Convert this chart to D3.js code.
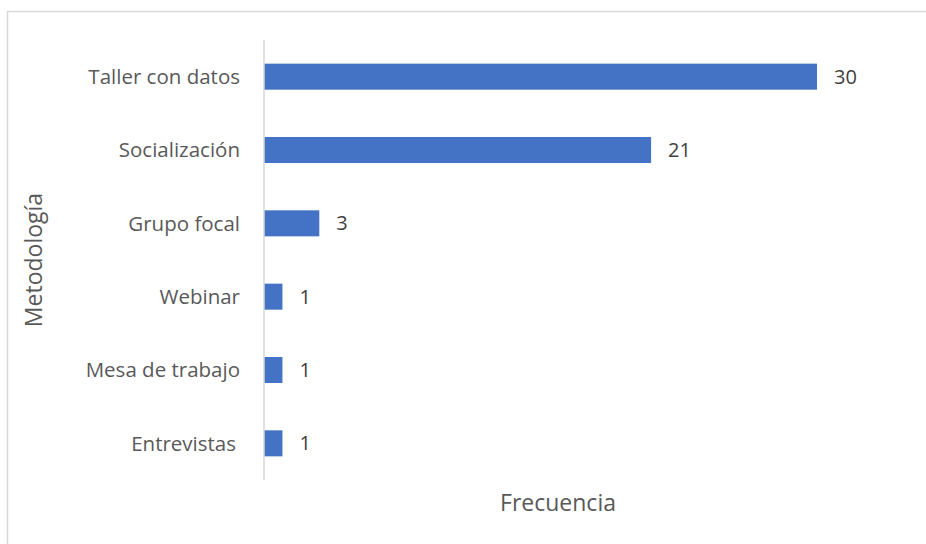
<!DOCTYPE html>
<html>
<head>
<meta charset="utf-8">
<script src="https://cdn.jsdelivr.net/npm/d3@7"></script>
<style>
  body { margin: 0; background: #fff; }
  text { font-family: "Open Sans", "Noto Sans", sans-serif; }
</style>
</head>
<body>
<svg id="chart"></svg>
<script>
const width = 926, height = 544;

// Data
const categories = ["Taller con datos", "Socialización", "Grupo focal", "Webinar", "Mesa de trabajo", "Entrevistas"];
const values = [30, 21, 3, 1, 1, 1];

const svg = d3.select("#chart")
    .attr("width", width)
    .attr("height", height)
    .style("background", "#fff");

// Outer frame (cut off at right and bottom)
svg.append("rect")
    .attr("x", 7.5).attr("y", 11.5)
    .attr("width", 940).attr("height", 560)
    .attr("fill", "none")
    .attr("stroke", "#d9d9d9")
    .attr("stroke-width", 1.5);

const x = d3.scaleLinear()
    .domain([0, 30])
    .range([264, 817]);

const y = d3.scaleBand()
    .domain(categories)
    .range([40, 480])
    .paddingInner(0.645)
    .paddingOuter(0.3225);

const data = categories.map((c, i) => ({ cat: c, val: values[i] }));

// Bars
svg.selectAll(".bar")
    .data(data)
    .enter().append("rect")
    .attr("class", "bar")
    .attr("x", x(0))
    .attr("y", d => y(d.cat))
    .attr("width", d => x(d.val) - x(0))
    .attr("height", y.bandwidth())
    .attr("fill", "#4472c4");

// Y axis line
svg.append("line")
    .attr("x1", x(0)).attr("x2", x(0))
    .attr("y1", 40).attr("y2", 480)
    .attr("stroke", "#d9d9d9")
    .attr("stroke-width", 1.5);

// Category labels
svg.selectAll(".cat")
    .data(data)
    .enter().append("text")
    .attr("class", "cat")
    .attr("x", d => d.cat === "Entrevistas" ? 236 : 240)
    .attr("y", d => y(d.cat) + y.bandwidth() / 2)
    .attr("dy", "0.35em")
    .attr("text-anchor", "end")
    .attr("fill", "#595959")
    .style("font-size", "20.5px")
    .text(d => d.cat);

// Value labels
svg.selectAll(".val")
    .data(data)
    .enter().append("text")
    .attr("class", "val")
    .attr("x", d => x(d.val) + 17)
    .attr("y", d => y(d.cat) + y.bandwidth() / 2)
    .attr("dy", "0.35em")
    .attr("fill", "#404040")
    .style("font-size", "20px")
    .text(d => d.val);

// Axis titles
svg.append("text")
    .attr("x", 558)
    .attr("y", 511)
    .attr("text-anchor", "middle")
    .attr("fill", "#595959")
    .style("font-size", "23px")
    .text("Frecuencia");

svg.append("text")
    .attr("transform", "translate(42, 260) rotate(-90)")
    .attr("text-anchor", "middle")
    .attr("fill", "#595959")
    .style("font-size", "23px")
    .text("Metodología");
</script>
</body>
</html>
